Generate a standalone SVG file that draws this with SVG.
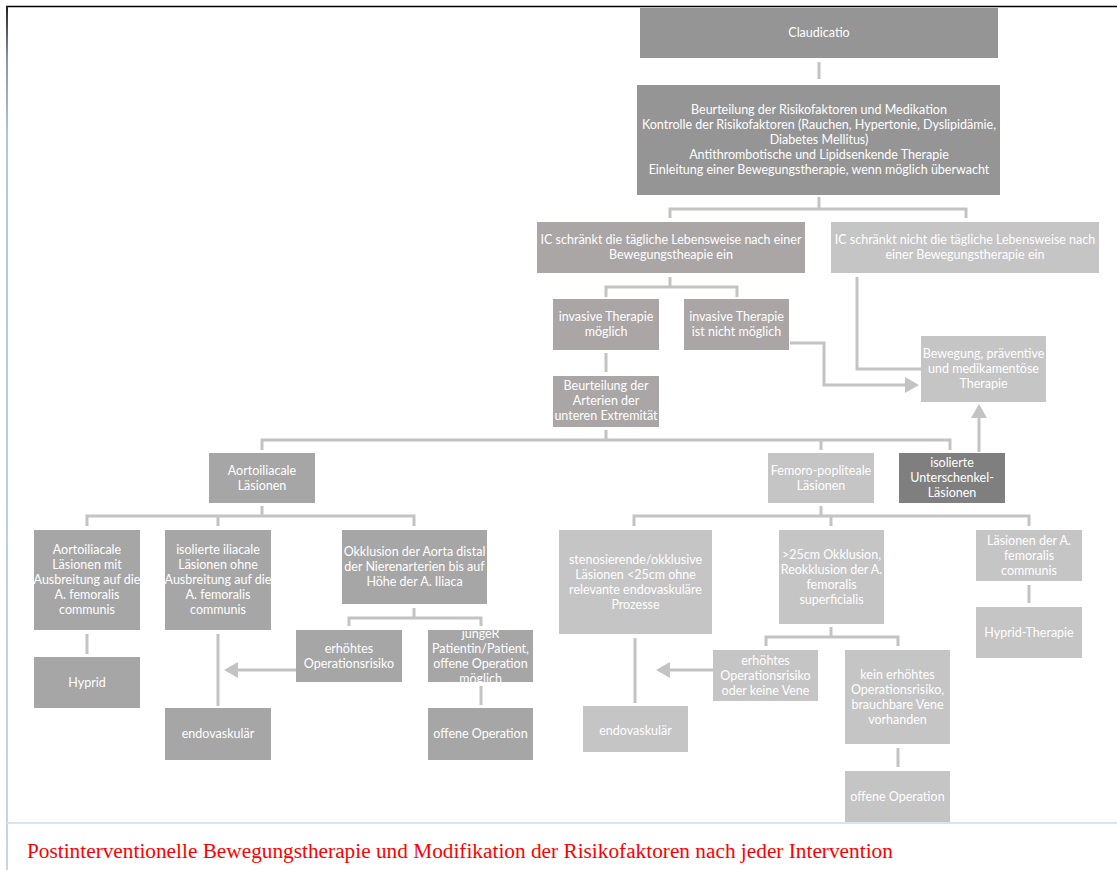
<svg xmlns="http://www.w3.org/2000/svg" width="1117" height="870" viewBox="0 0 1117 870">
<defs>
<style>
.n{stroke:none}
.a{fill:#959595}
.b{fill:#aaa6a6}
.c{fill:#c5c5c5}
.d{fill:#a6a6a6}
.e{fill:#7f7f7f}
.t{font-family:Lato,"Open Sans","Liberation Sans",sans-serif;font-size:12.5px;fill:#ffffff;text-anchor:middle}
.cn{fill:none;stroke:#c3c3c3;stroke-width:3}
</style>
<marker id="ah" viewBox="0 0 14 16" refX="0" refY="8" markerWidth="14" markerHeight="16" orient="auto" markerUnits="userSpaceOnUse"><path d="M0,0 L14,8 L0,16 z" fill="#c3c3c3"/></marker>
<linearGradient id="lg" x1="0" y1="0" x2="0" y2="1"><stop offset="0" stop-color="#222"/><stop offset="0.06" stop-color="#8a94a8"/><stop offset="0.15" stop-color="#b4c3e0"/><stop offset="1" stop-color="#c8d4ec"/></linearGradient>
<clipPath id="cj"><rect x="428" y="630" width="105" height="52"/></clipPath>
</defs>
<rect x="0" y="0" width="1117" height="870" fill="#fff"/>
<g id="frame">
<line x1="6" y1="6.5" x2="1117" y2="6.5" stroke="#000" stroke-width="1.5"/>
<rect x="6" y="6" width="2" height="864" fill="url(#lg)"/>
<line x1="7" y1="823" x2="1117" y2="823" stroke="#dae3f3" stroke-width="2"/>
</g>
<g id="connectors">
<path class="cn" d="M819,62 V79"/>
<path class="cn" d="M819,197 V209 M670,218 V209 H966 V218"/>
<path class="cn" d="M670,277 V287 M606,297 V287 H737 V297"/>
<path class="cn" d="M606,353 V372"/>
<path class="cn" d="M790,343 H824 V385 H905" marker-end="url(#ah)"/>
<path class="cn" d="M857,277 V369 H921"/>
<path class="cn" d="M979,452 V418" marker-end="url(#ah)"/>
<path class="cn" d="M606,430 V440 M262,450 V440 H950 V450 M821,440 V450"/>
<path class="cn" d="M262,506 V516 M87,526 V516 H414 V526 M218,516 V526"/>
<path class="cn" d="M414,608 V618 M349,626 V618 H481 V626"/>
<path class="cn" d="M87,634 V654"/>
<path class="cn" d="M218,634 V706"/>
<path class="cn" d="M296,670 H238" marker-end="url(#ah)"/>
<path class="cn" d="M481,686 V705"/>
<path class="cn" d="M821,506 V516 M634,526 V516 H1029 V526 M831,516 V526"/>
<path class="cn" d="M1029,585 V603"/>
<path class="cn" d="M831,627 V637 M766,646 V637 H898 V646"/>
<path class="cn" d="M635,638 V703"/>
<path class="cn" d="M713,670 H670" marker-end="url(#ah)"/>
<path class="cn" d="M898,748 V767"/>
</g>
<g id="claudicatio"><rect class="a" x="640" y="8" width="358" height="50"/><text class="t" x="819" y="37">Claudicatio</text></g>
<g id="beurteilung-risiko"><rect class="a" x="637" y="85" width="363" height="110"/>
<text class="t" x="819" y="114">Beurteilung der Risikofaktoren und Medikation</text>
<text class="t" x="819" y="129">Kontrolle der Risikofaktoren (Rauchen, Hypertonie, Dyslipidämie,</text>
<text class="t" x="819" y="144">Diabetes Mellitus)</text>
<text class="t" x="819" y="159">Antithrombotische und Lipidsenkende Therapie</text>
<text class="t" x="819" y="174">Einleitung einer Bewegungstherapie, wenn möglich überwacht</text></g>
<g id="ic-ja"><rect class="b" x="537" y="222" width="268" height="51"/>
<text class="t" x="671" y="244">IC schränkt die tägliche Lebensweise nach einer</text>
<text class="t" x="671" y="259">Bewegungstheapie ein</text></g>
<g id="ic-nein"><rect class="c" x="831" y="222" width="268" height="51"/>
<text class="t" x="965" y="244">IC schränkt nicht die tägliche Lebensweise nach</text>
<text class="t" x="965" y="259">einer Bewegungstherapie ein</text></g>
<g id="invasiv-ja"><rect class="b" x="553" y="299" width="106" height="51"/>
<text class="t" x="606" y="321">invasive Therapie</text><text class="t" x="606" y="336">möglich</text></g>
<g id="invasiv-nein"><rect class="b" x="684" y="299" width="105" height="51"/>
<text class="t" x="736.5" y="321">invasive Therapie</text><text class="t" x="736.5" y="336">ist nicht möglich</text></g>
<g id="beurteilung-arterien"><rect class="b" x="553" y="376" width="106" height="51"/>
<text class="t" x="606" y="390">Beurteilung der</text><text class="t" x="606" y="405">Arterien der</text><text class="t" x="606" y="420">unteren Extremität</text></g>
<g id="bewegung"><rect class="c" x="921" y="336" width="125" height="66"/>
<text class="t" x="983.5" y="358">Bewegung, präventive</text><text class="t" x="983.5" y="373">und medikamentöse</text><text class="t" x="983.5" y="388">Therapie</text></g>
<g id="aortoiliacal"><rect class="d" x="209" y="453" width="106" height="50"/>
<text class="t" x="262" y="475">Aortoiliacale</text><text class="t" x="262" y="490">Läsionen</text></g>
<g id="femoro"><rect class="c" x="768" y="453" width="106" height="50"/>
<text class="t" x="821" y="475">Femoro-popliteale</text><text class="t" x="821" y="490">Läsionen</text></g>
<g id="unterschenkel"><rect class="e" x="899" y="453" width="106" height="50"/>
<text class="t" x="952" y="467">isolierte</text><text class="t" x="952" y="482">Unterschenkel-</text><text class="t" x="952" y="497">Läsionen</text></g>
<g id="aorto-ausbreitung"><rect class="d" x="34" y="530" width="106" height="100"/>
<text class="t" x="87" y="554">Aortoiliacale</text><text class="t" x="87" y="569">Läsionen mit</text><text class="t" x="87" y="584">Ausbreitung auf die</text><text class="t" x="87" y="599">A. femoralis</text><text class="t" x="87" y="614">communis</text></g>
<g id="iliacal-isoliert"><rect class="d" x="165" y="530" width="106" height="100"/>
<text class="t" x="218" y="554">isolierte iliacale</text><text class="t" x="218" y="569">Läsionen ohne</text><text class="t" x="218" y="584">Ausbreitung auf die</text><text class="t" x="218" y="599">A. femoralis</text><text class="t" x="218" y="614">communis</text></g>
<g id="okklusion-aorta"><rect class="d" x="342" y="530" width="145" height="74"/>
<text class="t" x="414.5" y="556">Okklusion der Aorta distal</text><text class="t" x="414.5" y="571">der Nierenarterien bis auf</text><text class="t" x="414.5" y="586">Höhe der A. Iliaca</text></g>
<g id="erhoehtes-risiko-l"><rect class="d" x="296" y="630" width="106" height="52"/>
<text class="t" x="349" y="653">erhöhtes</text><text class="t" x="349" y="668">Operationsrisiko</text></g>
<g id="junger-patient"><rect class="d" x="428" y="630" width="105" height="52"/>
<g clip-path="url(#cj)"><text class="t" x="480.5" y="638">jungeR</text><text class="t" x="480.5" y="653">Patientin/Patient,</text><text class="t" x="480.5" y="668">offene Operation</text><text class="t" x="480.5" y="683">möglich</text></g></g>
<g id="hyprid"><rect class="d" x="34" y="657" width="106" height="51"/><text class="t" x="87" y="687">Hyprid</text></g>
<g id="endovaskulaer-l"><rect class="d" x="165" y="708" width="106" height="52"/><text class="t" x="218" y="738">endovaskulär</text></g>
<g id="offene-op-l"><rect class="d" x="428" y="708" width="105" height="52"/><text class="t" x="480.5" y="738">offene Operation</text></g>
<g id="stenosierend"><rect class="c" x="559" y="530" width="153" height="104"/>
<text class="t" x="635.5" y="564">stenosierende/okklusive</text><text class="t" x="635.5" y="579">Läsionen &lt;25cm ohne</text><text class="t" x="635.5" y="594">relevante endovaskuläre</text><text class="t" x="635.5" y="609">Prozesse</text></g>
<g id="okklusion-25"><rect class="c" x="779" y="530" width="105" height="94"/>
<text class="t" x="831.5" y="559">&gt;25cm Okklusion,</text><text class="t" x="831.5" y="574">Reokklusion der A.</text><text class="t" x="831.5" y="589">femoralis</text><text class="t" x="831.5" y="604">superficialis</text></g>
<g id="femoralis-communis"><rect class="c" x="976" y="530" width="106" height="51"/>
<text class="t" x="1029" y="545">Läsionen der A.</text><text class="t" x="1029" y="560">femoralis</text><text class="t" x="1029" y="575">communis</text></g>
<g id="hyprid-therapie"><rect class="c" x="976" y="607" width="106" height="51"/><text class="t" x="1029" y="637">Hyprid-Therapie</text></g>
<g id="erhoehtes-risiko-r"><rect class="c" x="713" y="650" width="105" height="51"/>
<text class="t" x="765.5" y="665">erhöhtes</text><text class="t" x="765.5" y="680">Operationsrisiko</text><text class="t" x="765.5" y="695">oder keine Vene</text></g>
<g id="kein-risiko"><rect class="c" x="845" y="650" width="105" height="94"/>
<text class="t" x="897.5" y="679">kein erhöhtes</text><text class="t" x="897.5" y="694">Operationsrisiko,</text><text class="t" x="897.5" y="709">brauchbare Vene</text><text class="t" x="897.5" y="724">vorhanden</text></g>
<g id="offene-op-r"><rect class="c" x="845" y="771" width="105" height="51"/><text class="t" x="897.5" y="801">offene Operation</text></g>
<g id="endovaskulaer-r"><rect class="c" x="583" y="706" width="105" height="46"/><text class="t" x="635.5" y="735">endovaskulär</text></g>
<text id="footer" x="27" y="858" font-family="'Liberation Serif','Times New Roman',serif" font-size="21.3" fill="#ff0000">Postinterventionelle Bewegungstherapie und Modifikation der Risikofaktoren nach jeder Intervention</text>
</svg>
